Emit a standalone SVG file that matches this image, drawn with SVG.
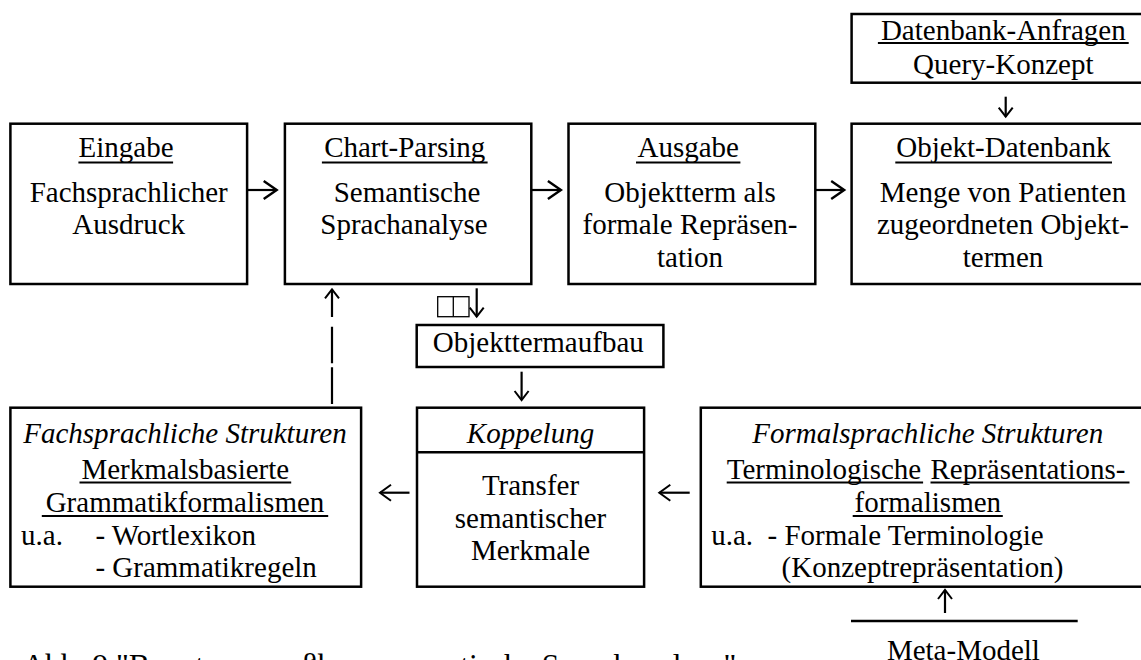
<svg xmlns="http://www.w3.org/2000/svg" width="1141" height="660" viewBox="0 0 1141 660">
<style>
text{font-family:"Liberation Serif","Times New Roman",serif;font-size:29px;fill:#000}
.c{text-anchor:middle}
.i{font-style:italic}
.box{fill:#fff;stroke:#000;stroke-width:2.5}
.ul{stroke:#000;stroke-width:1.8}
.con{fill:none;stroke:#000;stroke-width:2.2}
.thin{fill:none;stroke:#000;stroke-width:1.3}
</style>
<defs>
<marker id="hb" markerUnits="userSpaceOnUse" markerWidth="16" markerHeight="20" refX="14" refY="9" orient="auto" overflow="visible">
<path d="M1,0 L14,9 L1,18" fill="none" stroke="#000" stroke-width="2.4"/>
</marker>
<marker id="hm" markerUnits="userSpaceOnUse" markerWidth="14" markerHeight="18" refX="12" refY="8" orient="auto" overflow="visible">
<path d="M1,0 L12,8 L1,16" fill="none" stroke="#000" stroke-width="2"/>
</marker>
<marker id="hs" markerUnits="userSpaceOnUse" markerWidth="12" markerHeight="16" refX="10" refY="7" orient="auto" overflow="visible">
<path d="M1,0 L10,7 L1,14" fill="none" stroke="#000" stroke-width="2"/>
</marker>
</defs>
<rect width="1141" height="660" fill="#fff"/>

<g id="eingabe">
<rect class="box" x="10.4" y="123.7" width="236.7" height="160.3"/>
<text class="c" x="126" y="157.3">Eingabe</text>
<line class="ul" x1="78.4" y1="162.5" x2="173.1" y2="162.5"/>
<text class="c" x="128.7" y="201.7">Fachsprachlicher</text>
<text class="c" x="128.7" y="234.3">Ausdruck</text>
</g>

<g id="chart-parsing">
<rect class="box" x="284.9" y="123.7" width="246.4" height="160.3"/>
<text class="c" x="404.7" y="157.3">Chart-Parsing</text>
<line class="ul" x1="321.9" y1="162.5" x2="487.6" y2="162.5"/>
<text class="c" x="407" y="201.7">Semantische</text>
<text class="c" x="404" y="234.3">Sprachanalyse</text>
</g>

<g id="ausgabe">
<rect class="box" x="568.5" y="123.7" width="246.8" height="160.3"/>
<text class="c" x="688.2" y="157.3">Ausgabe</text>
<line class="ul" x1="636" y1="162.5" x2="740.4" y2="162.5"/>
<text class="c" x="690" y="201.7">Objektterm als</text>
<text class="c" x="690" y="234.3">formale Repräsen-</text>
<text class="c" x="690" y="266.7">tation</text>
</g>

<g id="datenbank-anfragen">
<rect class="box" x="851.6" y="14" width="310" height="68.7"/>
<text class="c" x="1003.3" y="39.5">Datenbank-Anfragen</text>
<line class="ul" x1="877.9" y1="43" x2="1128.7" y2="43"/>
<text class="c" x="1003.3" y="74">Query-Konzept</text>
</g>

<g id="objekt-datenbank">
<rect class="box" x="851.6" y="123.7" width="310" height="160.3"/>
<text class="c" x="1003.3" y="157.3">Objekt-Datenbank</text>
<line class="ul" x1="895.3" y1="162.5" x2="1112" y2="162.5"/>
<text class="c" x="1003" y="201.7">Menge von Patienten</text>
<text class="c" x="1003" y="234.3">zugeordneten Objekt-</text>
<text class="c" x="1003" y="266.7">termen</text>
</g>

<g id="objekttermaufbau">
<rect class="box" x="416.7" y="325" width="246.7" height="42"/>
<text x="432.8" y="351.7">Objekttermaufbau</text>
</g>

<g id="symbol">
<rect class="thin" x="437.7" y="296.7" width="31.3" height="20"/>
<line class="thin" x1="453.3" y1="296.7" x2="453.3" y2="316.7"/>
</g>

<g id="fachsprachliche-strukturen">
<rect class="box" x="10.4" y="407.7" width="350.7" height="179"/>
<text class="c i" x="185" y="443.3">Fachsprachliche Strukturen</text>
<text class="c" x="185.3" y="479">Merkmalsbasierte</text>
<line class="ul" x1="79.5" y1="482.5" x2="291.2" y2="482.5"/>
<text class="c" x="185" y="511.7">Grammatikformalismen</text>
<line class="ul" x1="41.8" y1="516" x2="328.2" y2="516"/>
<text x="21.1" y="545">u.a.</text>
<text x="95.4" y="545">- Wortlexikon</text>
<text x="95.4" y="576.7">- Grammatikregeln</text>
</g>

<g id="koppelung">
<rect class="box" x="417" y="407.7" width="227.1" height="179"/>
<line class="box" x1="417" y1="452.3" x2="644.1" y2="452.3"/>
<text class="c i" x="530.5" y="443.3">Koppelung</text>
<text class="c" x="530.5" y="495">Transfer</text>
<text class="c" x="530.5" y="528.3">semantischer</text>
<text class="c" x="530.5" y="560">Merkmale</text>
</g>

<g id="formalsprachliche-strukturen">
<rect class="box" x="700.8" y="407.7" width="460" height="179"/>
<text class="c i" x="927.7" y="443.3">Formalsprachliche Strukturen</text>
<text x="726.7" y="479">Terminologische</text>
<line class="ul" x1="726.7" y1="482.5" x2="923.1" y2="482.5"/>
<text x="930.5" y="479">Repräsentations-</text>
<line class="ul" x1="930.5" y1="482.5" x2="1129.5" y2="482.5"/>
<text class="c" x="927.8" y="511.7">formalismen</text>
<line class="ul" x1="852.7" y1="516" x2="1002.8" y2="516"/>
<text x="711.2" y="545">u.a.</text>
<text x="767.5" y="545">- Formale Terminologie</text>
<text x="781.6" y="577">(Konzeptrepräsentation)</text>
</g>

<g id="meta-modell">
<line x1="851" y1="621" x2="1077.7" y2="621" stroke="#000" stroke-width="2.5"/>
<text class="c" x="963.4" y="660">Meta-Modell</text>
</g>

<g id="caption">
<text x="22.4" y="676" style="font-size:31.5px">Abb. 9 "Benutzeranpaßbare semantische Sprachanalyse"</text>
</g>

<g id="connectors">
<line class="con" x1="247.1" y1="190" x2="276.7" y2="190" marker-end="url(#hb)"/>
<line class="con" x1="531.3" y1="190" x2="560.9" y2="190" marker-end="url(#hb)"/>
<line class="con" x1="815.3" y1="190" x2="844.2" y2="190" marker-end="url(#hb)"/>
<line class="con" x1="1005.7" y1="96.7" x2="1005.7" y2="116.7" marker-end="url(#hs)"/>
<line class="con" x1="476.7" y1="288.3" x2="476.7" y2="316.7" marker-end="url(#hs)"/>
<line class="con" x1="521.6" y1="371.7" x2="521.6" y2="400" marker-end="url(#hs)"/>
<path class="con" d="M332,404 V367.3 M332,363.3 V326.7 M332,317 V289.3" marker-end="url(#hs)"/>
<line class="con" x1="409.5" y1="492.7" x2="380" y2="492.7" marker-end="url(#hm)"/>
<line class="con" x1="689.7" y1="492.7" x2="659.3" y2="492.7" marker-end="url(#hm)"/>
<line class="con" x1="945" y1="613" x2="945" y2="590" marker-end="url(#hs)"/>
</g>
</svg>
